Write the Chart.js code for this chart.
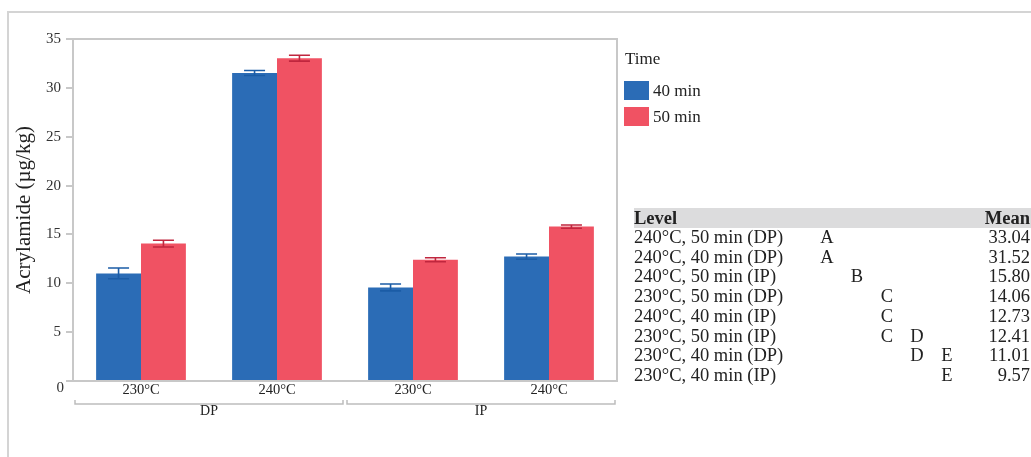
<!DOCTYPE html>
<html>
<head>
<meta charset="utf-8">
<script src="https://cdn.jsdelivr.net/npm/chart.js@4.4.1/dist/chart.umd.min.js"></script>
<style>
    html, body { margin: 0; padding: 0; background: #fff; }
    #wrap { position: relative; width: 1031px; height: 457px; overflow: hidden; font-family: "Liberation Serif", "Times New Roman", serif; color: #222; }
    #frame { position: absolute; left: 7px; top: 11px; width: 1100px; height: 500px; border-top: 2px solid #d4d4d4; border-left: 2px solid #d4d4d4; }
    #chart { position: absolute; left: 0; top: 0; }
    #legend { position: absolute; left: 624px; top: 49px; font-size: 17px; }
    #legend .title { height: 20px; line-height: 20px; margin: 0 0 12px 1px; }
    #legend .item { display: flex; align-items: center; height: 19px; margin-bottom: 7px; }
    #legend .sw { width: 25px; height: 19px; margin-right: 4px; }
    #tbl { position: absolute; left: 634px; top: 208px; border-collapse: collapse; font-size: 18.5px; table-layout: fixed; width: 397px; }
    #tbl th { background: #dcdcdd; height: 20px; line-height: 20px; padding: 0; font-weight: bold; text-align: left; }
    #tbl td { height: 19.7px; padding: 0; white-space: nowrap; line-height: 19.7px; }
    #tbl .let { text-align: center; }
    #tbl .num { text-align: right; padding-right: 1px; }
</style>
</head>
<body>
<div id="wrap">
    <div id="frame"></div>
    <canvas id="chart" width="1031" height="457"></canvas>
    <div id="legend"></div>
    <table id="tbl"></table>
</div>
<script>
const categories = ['230°C', '240°C', '230°C', '240°C'];
const groups = ['DP', 'IP'];
const perGroup = 2;
const seriesLabels = ['40 min', '50 min'];
const mean40 = [11.01, 31.52, 9.57, 12.73];
const mean50 = [14.06, 33.04, 12.41, 15.80];
const err40 = [0.55, 0.25, 0.35, 0.27];
const err50 = [0.35, 0.30, 0.20, 0.17];
const yTicksMax = 35;
const yStep = 5;

const levels = ['240°C, 50 min (DP)', '240°C, 40 min (DP)', '240°C, 50 min (IP)', '230°C, 50 min (DP)',
    '240°C, 40 min (IP)', '230°C, 50 min (IP)', '230°C, 40 min (DP)', '230°C, 40 min (IP)'];
const letterCols = ['A', 'B', 'C', 'D', 'E'];
const letters = ['A', 'A', 'B', 'C', 'C', 'CD', 'DE', 'E'];
const means = ['33.04', '31.52', '15.80', '14.06', '12.73', '12.41', '11.01', '9.57'];

const fillColors = ['#2b6cb6', '#f05263'];
const errColors = ['#1b5ca6', '#c0263e'];
const serif = '"Liberation Serif", "Times New Roman", serif';
const ink = '#222';
const boxGray = '#c8c8c8';

// legend + connecting letters table
const legendEl = document.getElementById('legend');
legendEl.innerHTML = '<div class="title">Time</div>' + seriesLabels.map((l, i) =>
    `<div class="item"><span class="sw" style="background:${fillColors[i]}"></span>${l}</div>`).join('');

const tbl = document.getElementById('tbl');
const colgroup = '<colgroup><col style="width:178px">' + letterCols.map(() => '<col style="width:30px">').join('') + '<col></colgroup>';
const head = '<tr><th>Level</th>' + letterCols.map(() => '<th></th>').join('') + '<th class="num">Mean</th></tr>';
const body = levels.map((lv, r) => '<tr><td>' + lv + '</td>' +
    letterCols.map(c => `<td class="let">${letters[r].includes(c) ? c : ''}</td>`).join('') +
    `<td class="num">${means[r]}</td></tr>`).join('');
tbl.innerHTML = colgroup + head + body;

const extras = {
    id: 'extras',
    beforeDatasetsDraw(chart) {
        const { ctx, chartArea: a } = chart;
        ctx.save();
        ctx.strokeStyle = boxGray;
        ctx.lineWidth = 2;
        ctx.strokeRect(a.left, a.top, a.right - a.left, a.bottom - a.top);
        ctx.restore();
    },
    afterDatasetsDraw(chart) {
        const { ctx, scales: { y } } = chart;
        const errs = [err40, err50];
        ctx.save();
        chart.data.datasets.forEach((ds, d) => {
            const meta = chart.getDatasetMeta(d);
            ctx.strokeStyle = errColors[d];
            ctx.lineWidth = 1.6;
            meta.data.forEach((bar, i) => {
                const v = ds.data[i], e = errs[d][i];
                const yt = y.getPixelForValue(v + e), yb = y.getPixelForValue(v - e);
                const cx = bar.x, hw = 10.5;
                ctx.beginPath();
                ctx.moveTo(cx, yt); ctx.lineTo(cx, yb);
                ctx.moveTo(cx - hw, yt); ctx.lineTo(cx + hw, yt);
                ctx.moveTo(cx - hw, yb); ctx.lineTo(cx + hw, yb);
                ctx.stroke();
            });
        });
        ctx.restore();
    },
    afterDraw(chart) {
        const { ctx, chartArea: a, scales: { x, y } } = chart;
        const catW = x.width / categories.length;
        const by = a.bottom + 23;
        ctx.save();
        ctx.strokeStyle = '#bdbdbd';
        ctx.lineWidth = 1.5;
        ctx.fillStyle = ink;
        ctx.font = '14px ' + serif;
        ctx.textAlign = 'center';
        ctx.textBaseline = 'middle';
        groups.forEach((g, gi) => {
            const x0 = x.getPixelForValue(gi * perGroup) - catW / 2 + 2;
            const x1 = x.getPixelForValue(gi * perGroup + perGroup - 1) + catW / 2 - 2;
            ctx.beginPath();
            ctx.moveTo(x0, by - 4); ctx.lineTo(x0, by); ctx.lineTo(x1, by); ctx.lineTo(x1, by - 4);
            ctx.stroke();
            ctx.fillText(g, (x0 + x1) / 2, by + 7);
        });
        // the zero label sits below its tick in the original
        ctx.textAlign = 'right';
        ctx.fillStyle = '#333';
        ctx.font = '15px ' + serif;
        ctx.fillText('0', y.right - 9, y.getPixelForValue(0) + 7);
        ctx.restore();
    }
};

new Chart(document.getElementById('chart'), {
    type: 'bar',
    data: {
        labels: categories,
        datasets: [
            { label: seriesLabels[0], data: mean40, backgroundColor: fillColors[0] },
            { label: seriesLabels[1], data: mean50, backgroundColor: fillColors[1] }
        ]
    },
    options: {
        responsive: false,
        animation: false,
        layout: { padding: { left: 0, right: 414, top: 39, bottom: 36 } },
        datasets: { bar: { categoryPercentage: 0.66, barPercentage: 1, borderWidth: 0 } },
        plugins: { legend: { display: false }, tooltip: { enabled: false } },
        scales: {
            x: {
                grid: { display: false, drawTicks: false },
                border: { display: false },
                ticks: { color: ink, font: { family: serif, size: 14.5 }, padding: 0, maxRotation: 0 },
                afterFit: s => { s.height = 40; }
            },
            y: {
                min: 0, max: yTicksMax,
                grid: { drawOnChartArea: false, drawTicks: true, tickLength: 7, color: boxGray, lineWidth: 2 },
                border: { display: true, color: boxGray, width: 2 },
                ticks: { stepSize: yStep, color: '#333', font: { family: serif, size: 15 }, padding: 5,
                    callback: v => v === 0 ? '' : v },
                title: { display: true, text: 'Acrylamide (µg/kg)', color: ink, font: { family: serif, size: 21 }, padding: { top: 12, bottom: 0 } },
                afterFit: s => { s.width = 73; }
            }
        }
    },
    plugins: [extras]
});
</script>
</body>
</html>
